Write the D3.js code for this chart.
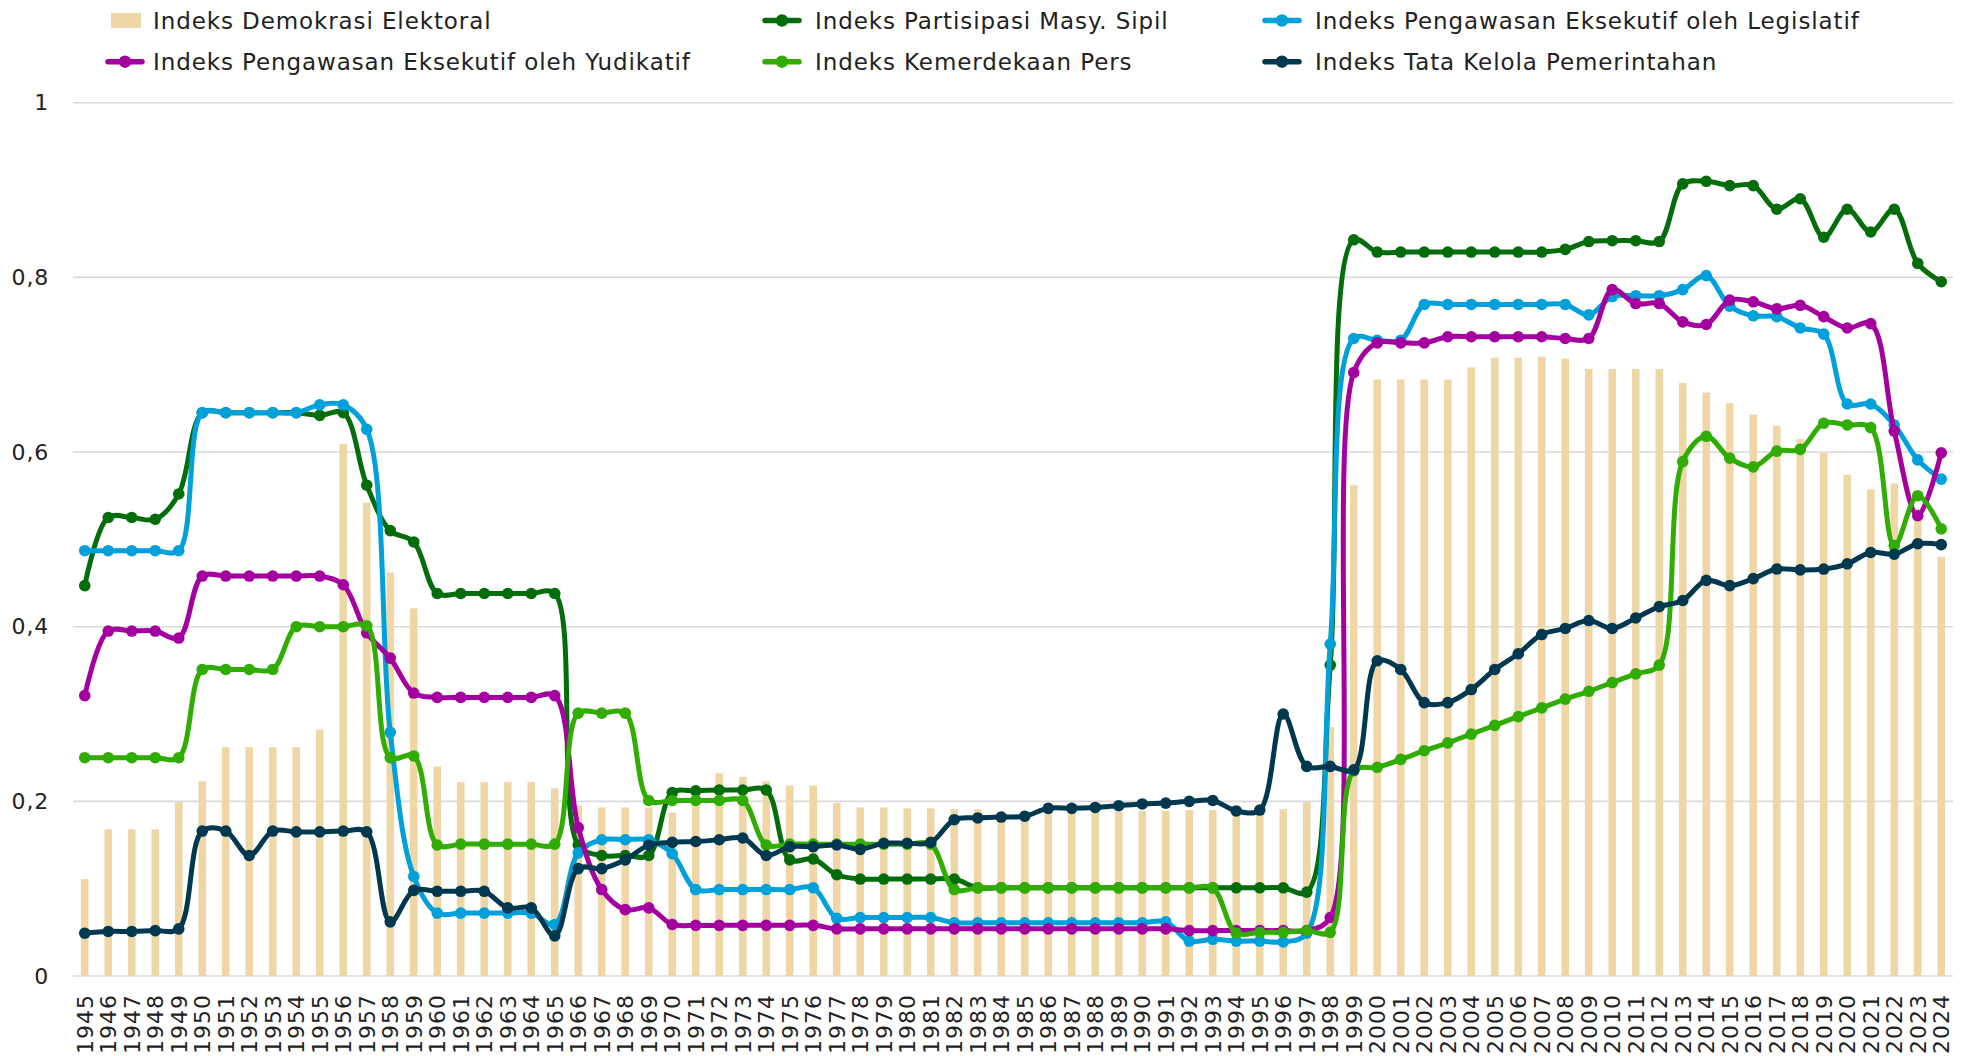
<!DOCTYPE html>
<html>
<head>
<meta charset="utf-8">
<script src="https://cdn.jsdelivr.net/npm/d3@7"></script>
<style>
  html, body { margin: 0; padding: 0; background: #ffffff; }
  svg { display: block; }
  text { font-family: "DejaVu Sans", "Noto Sans", sans-serif; fill: #222222; }
</style>
</head>
<body>
<svg id="chart" width="1966" height="1056"></svg>
<script>
// ---------------- DATA ----------------
const years = [
  "1945","1946","1947","1948","1949","1950","1951","1952","1953","1954",
  "1955","1956","1957","1958","1959","1960","1961","1962","1963","1964",
  "1965","1966","1967","1968","1969","1970","1971","1972","1973","1974",
  "1975","1976","1977","1978","1979","1980","1981","1982","1983","1984",
  "1985","1986","1987","1988","1989","1990","1991","1992","1993","1994",
  "1995","1996","1997","1998","1999","2000","2001","2002","2003","2004",
  "2005","2006","2007","2008","2009","2010","2011","2012","2013","2014",
  "2015","2016","2017","2018","2019","2020","2021","2022","2023","2024"
];

const yTicks = [0, 0.2, 0.4, 0.6, 0.8, 1];
const yTickLabels = ["0", "0,2", "0,4", "0,6", "0,8", "1"];

// Indeks Demokrasi Elektoral (bars)
const demokrasiElektoral = [
  0.111,0.168,0.168,0.168,0.199,0.223,0.262,0.262,0.262,0.262,
  0.282,0.609,0.542,0.462,0.421,0.240,0.222,0.222,0.222,0.222,
  0.215,0.195,0.193,0.193,0.193,0.187,0.217,0.232,0.228,0.223,
  0.218,0.218,0.198,0.193,0.193,0.192,0.192,0.191,0.191,0.188,
  0.188,0.188,0.188,0.188,0.188,0.189,0.189,0.190,0.190,0.190,
  0.190,0.191,0.199,0.285,0.562,0.683,0.683,0.683,0.683,0.697,
  0.708,0.708,0.709,0.707,0.695,0.695,0.695,0.695,0.679,0.668,
  0.656,0.643,0.630,0.615,0.599,0.574,0.557,0.564,0.535,0.480
];

// Indeks Partisipasi Masy. Sipil
const partisipasiSipil = [
  0.447,0.525,0.525,0.523,0.552,0.645,0.645,0.645,0.645,0.645,
  0.642,0.645,0.562,0.510,0.497,0.438,0.438,0.438,0.438,0.438,
  0.438,0.150,0.138,0.138,0.138,0.210,0.212,0.213,0.213,0.213,
  0.133,0.134,0.116,0.111,0.111,0.111,0.111,0.111,0.101,0.101,
  0.101,0.101,0.101,0.101,0.101,0.101,0.101,0.101,0.101,0.101,
  0.101,0.101,0.096,0.356,0.843,0.829,0.829,0.829,0.829,0.829,
  0.829,0.829,0.829,0.832,0.841,0.842,0.842,0.841,0.907,0.910,
  0.905,0.905,0.878,0.890,0.846,0.878,0.852,0.878,0.816,0.795
];

// Indeks Pengawasan Eksekutif oleh Legislatif
const pengawasanLegislatif = [
  0.487,0.487,0.487,0.487,0.487,0.645,0.645,0.645,0.645,0.645,
  0.654,0.654,0.626,0.279,0.114,0.072,0.072,0.072,0.072,0.072,
  0.059,0.141,0.156,0.156,0.156,0.140,0.099,0.099,0.099,0.099,
  0.099,0.101,0.066,0.067,0.067,0.067,0.067,0.061,0.061,0.061,
  0.061,0.061,0.061,0.061,0.061,0.061,0.062,0.040,0.042,0.040,
  0.040,0.039,0.049,0.380,0.730,0.728,0.728,0.769,0.769,0.769,
  0.769,0.769,0.769,0.769,0.757,0.778,0.779,0.779,0.786,0.802,
  0.767,0.756,0.755,0.742,0.735,0.655,0.655,0.631,0.591,0.569
];

// Indeks Pengawasan Eksekutif oleh Yudikatif
const pengawasanYudikatif = [
  0.321,0.395,0.395,0.395,0.387,0.458,0.458,0.458,0.458,0.458,
  0.458,0.448,0.393,0.364,0.324,0.319,0.319,0.319,0.319,0.319,
  0.321,0.170,0.099,0.076,0.078,0.059,0.058,0.058,0.058,0.058,
  0.058,0.058,0.054,0.054,0.054,0.054,0.054,0.054,0.054,0.054,
  0.054,0.054,0.054,0.054,0.054,0.054,0.054,0.052,0.052,0.052,
  0.052,0.052,0.052,0.067,0.691,0.725,0.725,0.725,0.732,0.732,
  0.732,0.732,0.732,0.730,0.730,0.786,0.770,0.770,0.749,0.746,
  0.774,0.772,0.764,0.768,0.755,0.742,0.747,0.624,0.527,0.599
];

// Indeks Kemerdekaan Pers
const kemerdekaanPers = [
  0.250,0.250,0.250,0.250,0.250,0.351,0.351,0.351,0.351,0.400,
  0.400,0.400,0.401,0.250,0.252,0.150,0.151,0.151,0.151,0.151,
  0.151,0.301,0.301,0.301,0.201,0.201,0.201,0.201,0.201,0.150,
  0.151,0.151,0.151,0.151,0.151,0.151,0.151,0.099,0.101,0.101,
  0.101,0.101,0.101,0.101,0.101,0.101,0.101,0.101,0.101,0.049,
  0.050,0.050,0.052,0.050,0.235,0.239,0.248,0.258,0.267,0.277,
  0.287,0.297,0.307,0.317,0.326,0.336,0.346,0.356,0.589,0.618,
  0.593,0.583,0.601,0.603,0.633,0.631,0.628,0.493,0.550,0.512
];

// Indeks Tata Kelola Pemerintahan
const tataKelola = [
  0.049,0.051,0.051,0.052,0.054,0.166,0.166,0.138,0.166,0.165,
  0.165,0.166,0.165,0.062,0.098,0.097,0.097,0.097,0.078,0.078,
  0.046,0.123,0.123,0.133,0.150,0.153,0.154,0.156,0.158,0.138,
  0.148,0.148,0.150,0.145,0.152,0.152,0.153,0.179,0.181,0.182,
  0.183,0.192,0.192,0.193,0.195,0.197,0.198,0.200,0.201,0.189,
  0.190,0.300,0.240,0.240,0.236,0.361,0.351,0.313,0.313,0.328,
  0.351,0.369,0.391,0.398,0.407,0.398,0.410,0.423,0.430,0.453,
  0.447,0.455,0.466,0.465,0.466,0.472,0.485,0.483,0.495,0.494
];

const barName = "Indeks Demokrasi Elektoral";
const lineNames = [
  "Indeks Partisipasi Masy. Sipil",
  "Indeks Pengawasan Eksekutif oleh Legislatif",
  "Indeks Pengawasan Eksekutif oleh Yudikatif",
  "Indeks Kemerdekaan Pers",
  "Indeks Tata Kelola Pemerintahan"
];
const lineValues = [partisipasiSipil, pengawasanLegislatif, pengawasanYudikatif, kemerdekaanPers, tataKelola];
const lineColors = ["#036d0c", "#00a0da", "#a3009f", "#30ac02", "#00394f"];
const barColor = "#eed7a5";

// ---------------- CHART ----------------
const svg = d3.select("#chart");
const plot = { left: 73, right: 1953, top: 102.7, bottom: 976 };

const x = d3.scaleBand().domain(years).range([plot.left, plot.right]).paddingInner(0).paddingOuter(0);
const y = d3.scaleLinear().domain([0, 1]).range([plot.bottom, plot.top]);
const cx = d => x(d) + x.bandwidth() / 2;

// gridlines
svg.append("g").selectAll("line").data(yTicks).join("line")
  .attr("x1", plot.left).attr("x2", plot.right)
  .attr("y1", d => y(d)).attr("y2", d => y(d))
  .attr("stroke", "#d9d9d9").attr("stroke-width", 1.6);

// y axis labels
const yAxis = d3.axisLeft(y).tickValues(yTicks)
  .tickFormat((d, i) => yTickLabels[i]).tickSize(0).tickPadding(0);
const yg = svg.append("g").attr("transform", `translate(${plot.left - 24},0)`).call(yAxis);
yg.select(".domain").remove();
yg.selectAll("text").attr("font-size", 22).attr("font-family", "DejaVu Sans")
  .attr("letter-spacing", 0.8).attr("fill", "#222");

// bars
const barW = 7.6;
svg.append("g").selectAll("rect").data(years).join("rect")
  .attr("x", d => cx(d) - barW / 2)
  .attr("width", barW)
  .attr("y", (d, i) => y(demokrasiElektoral[i]))
  .attr("height", (d, i) => y(0) - y(demokrasiElektoral[i]))
  .attr("fill", barColor);

// x axis
const xAxis = d3.axisBottom(x).tickSize(0).tickPadding(0);
const xg = svg.append("g").attr("transform", `translate(0,${plot.bottom})`).call(xAxis);
xg.select(".domain").remove();
xg.selectAll("text")
  .attr("font-size", 22)
  .attr("font-family", "DejaVu Sans")
  .attr("letter-spacing", 1.0)
  .attr("fill", "#222")
  .attr("text-anchor", "end")
  .attr("dy", "0.36em")
  .attr("transform", "translate(0,18) rotate(-90)")
  .attr("x", 0).attr("y", 0);

// lines
const lineGen = d3.line()
  .x((d, i) => cx(years[i]))
  .y(d => y(d))
  .curve(d3.curveCatmullRom.alpha(0.5));

lineValues.forEach((vals, k) => {
  const g = svg.append("g");
  g.append("path").datum(vals)
    .attr("d", lineGen)
    .attr("fill", "none")
    .attr("stroke", lineColors[k])
    .attr("stroke-width", 5)
    .attr("stroke-linejoin", "round")
    .attr("stroke-linecap", "round");
  g.selectAll("circle").data(vals).join("circle")
    .attr("cx", (d, i) => cx(years[i]))
    .attr("cy", d => y(d))
    .attr("r", 5.8)
    .attr("fill", lineColors[k]);
});

// legend
const legendItems = [
  { name: barName, type: "bar", color: barColor, mx: 126, tx: 153, row: 0 },
  { name: lineNames[0], type: "line", color: lineColors[0], mx: 782, tx: 815, row: 0 },
  { name: lineNames[1], type: "line", color: lineColors[1], mx: 1282, tx: 1315, row: 0 },
  { name: lineNames[2], type: "line", color: lineColors[2], mx: 125, tx: 153, row: 1 },
  { name: lineNames[3], type: "line", color: lineColors[3], mx: 782, tx: 815, row: 1 },
  { name: lineNames[4], type: "line", color: lineColors[4], mx: 1282, tx: 1315, row: 1 }
];
const rowY = [20.5, 61.7];
const lg = svg.append("g");
legendItems.forEach(it => {
  const cy = rowY[it.row];
  if (it.type === "bar") {
    lg.append("rect").attr("x", it.mx - 15).attr("y", cy - 7.5).attr("width", 30).attr("height", 15).attr("fill", it.color);
  } else {
    lg.append("line").attr("x1", it.mx - 17).attr("x2", it.mx + 17).attr("y1", cy).attr("y2", cy)
      .attr("stroke", it.color).attr("stroke-width", 5.5).attr("stroke-linecap", "round");
    lg.append("circle").attr("cx", it.mx).attr("cy", cy).attr("r", 6.2).attr("fill", it.color);
  }
  lg.append("text").attr("x", it.tx).attr("y", cy).attr("dy", "0.36em")
    .attr("font-size", 23).attr("letter-spacing", 0.9).text(it.name);
});
</script>
</body>
</html>
